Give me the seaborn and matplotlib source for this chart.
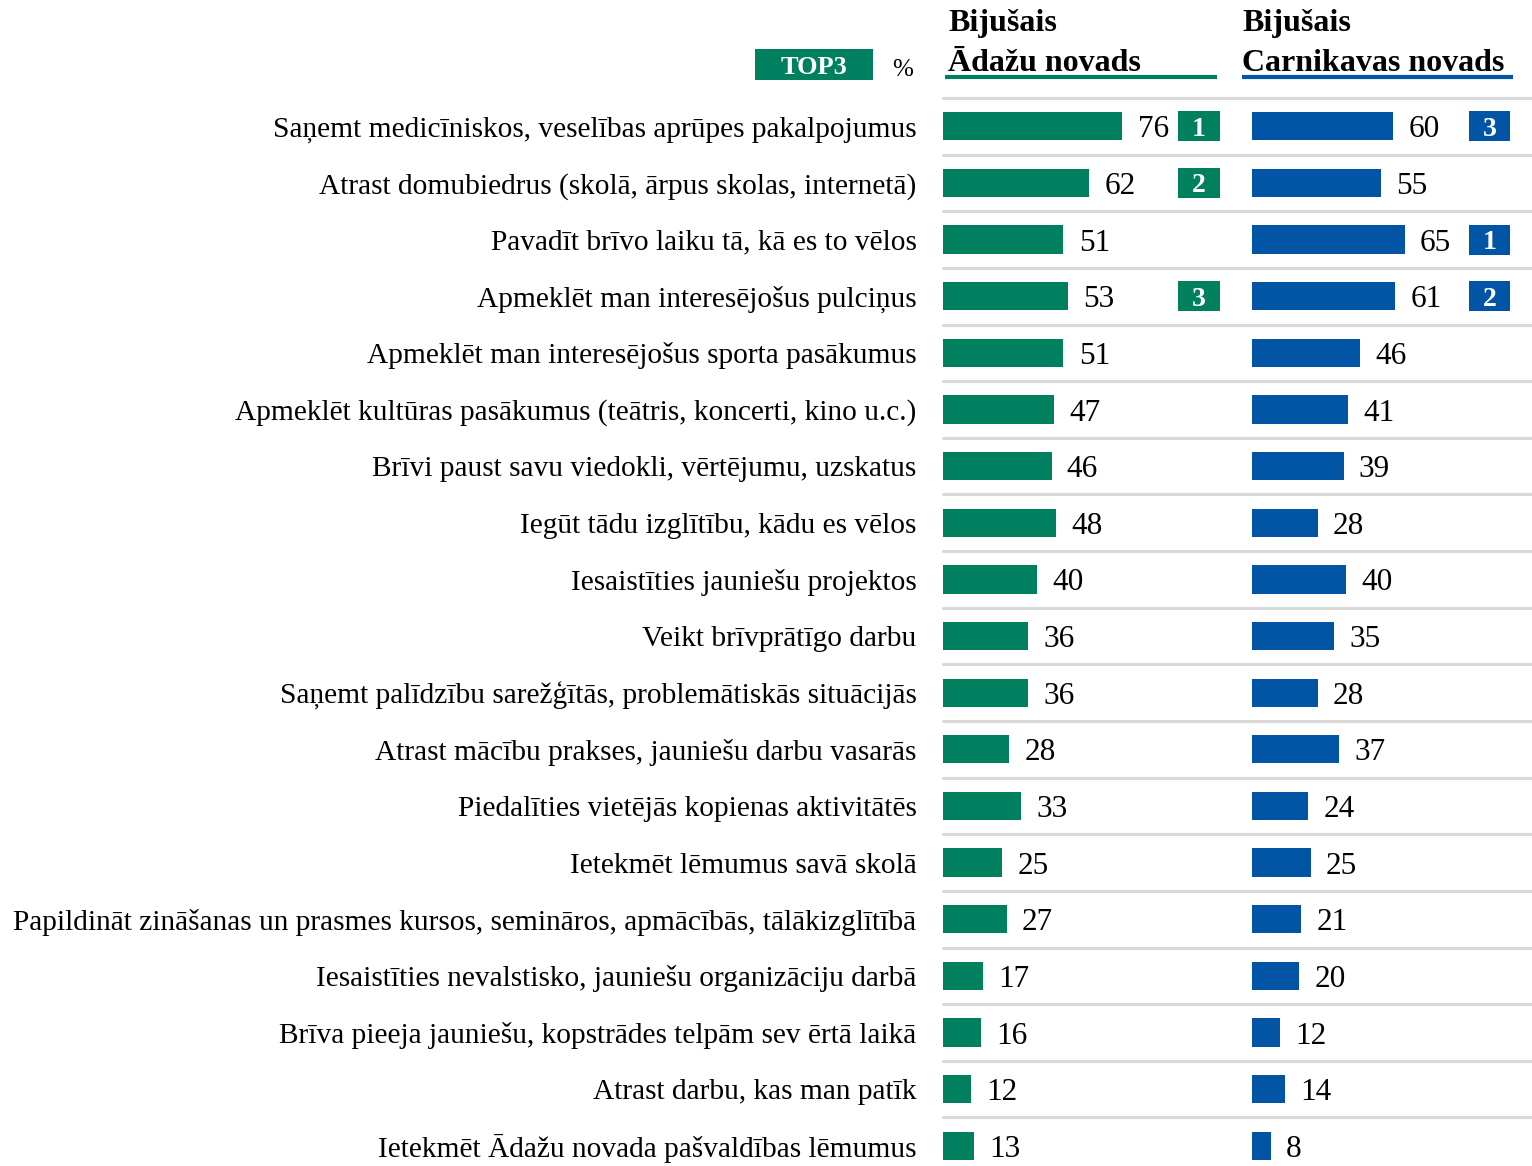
import pandas as pd
import matplotlib.pyplot as plt
import matplotlib.transforms as mtransforms
from matplotlib.patches import Rectangle
from matplotlib.lines import Line2D
import seaborn as sns

sns.set_style('white')
plt.rcParams['font.family'] = ['Liberation Serif', 'DejaVu Serif']
plt.rcParams['text.color'] = 'black'
plt.rcParams['ytick.color'] = 'black'

# dati
labels = [
    'Saņemt medicīniskos, veselības aprūpes pakalpojumus',
    'Atrast domubiedrus (skolā, ārpus skolas, internetā)',
    'Pavadīt brīvo laiku tā, kā es to vēlos',
    'Apmeklēt man interesējošus pulciņus',
    'Apmeklēt man interesējošus sporta pasākumus',
    'Apmeklēt kultūras pasākumus (teātris, koncerti, kino u.c.)',
    'Brīvi paust savu viedokli, vērtējumu, uzskatus',
    'Iegūt tādu izglītību, kādu es vēlos',
    'Iesaistīties jauniešu projektos',
    'Veikt brīvprātīgo darbu',
    'Saņemt palīdzību sarežģītās, problemātiskās situācijās',
    'Atrast mācību prakses, jauniešu darbu vasarās',
    'Piedalīties vietējās kopienas aktivitātēs',
    'Ietekmēt lēmumus savā skolā',
    'Papildināt zināšanas un prasmes kursos, semināros, apmācībās, tālākizglītībā',
    'Iesaistīties nevalstisko, jauniešu organizāciju darbā',
    'Brīva pieeja jauniešu, kopstrādes telpām sev ērtā laikā',
    'Atrast darbu, kas man patīk',
    'Ietekmēt Ādažu novada pašvaldības lēmumus',
]
adazi = [76, 62, 51, 53, 51, 47, 46, 48, 40, 36, 36, 28, 33, 25, 27, 17, 16, 12, 13]
carnikava = [60, 55, 65, 61, 46, 41, 39, 28, 40, 35, 28, 37, 24, 25, 21, 20, 12, 14, 8]
adazi_top3 = {0: '1', 1: '2', 3: '3'}
carnikava_top3 = {0: '3', 2: '1', 3: '2'}

green = '#00805E'
blue = '#0254A5'
grid_col = '#D9D9D9'

W, H = 1532, 1166
fig = plt.figure(figsize=(W / 100, H / 100), dpi=100)

def px_box(x0, x1, y0, y1):
    return [x0 / W, 1 - y1 / H, (x1 - x0) / W, (y1 - y0) / H]

ax1 = fig.add_axes(px_box(943, 1240, 98, 1166))
ax2 = fig.add_axes(px_box(1252, 1532, 98, 1166))

df = pd.DataFrame({'label': labels, 'adazi': adazi, 'carnikava': carnikava})

sns.barplot(data=df, x='adazi', y='label', orient='h', color=green, saturation=1,
            width=0.5, linewidth=0, ax=ax1)
sns.barplot(data=df, x='carnikava', y='label', orient='h', color=blue, saturation=1,
            width=0.5, linewidth=0, ax=ax2)

ax1.set_xlim(0, 297 / 2.36)
ax2.set_xlim(0, 280 / 2.35)
n = len(labels)
bottom = (1166 - 127) / 56.6
for ax in (ax1, ax2):
    ax.set_ylim(bottom, -0.5)
    ax.set_xlabel('')
    ax.set_ylabel('')
    ax.set_xticks([])
    ax.patch.set_visible(False)
    for s in ax.spines.values():
        s.set_visible(False)
    for t in ax.bar_label(ax.containers[0], padding=11, fontsize=22.5):
        t.set_va('center_baseline')

ax1.tick_params(axis='y', length=0, pad=19, labelsize=21.2)
ax2.set_yticks([])

# atdalošās līnijas
for i in range(n):
    ax1.axhline(i - 0.5, xmin=0, xmax=(1532 - 943) / 297, color=grid_col, lw=2.2,
                clip_on=False, zorder=0)

# TOP3 zīmes
def badges(ax, ranks, color, x0, w):
    tr = mtransforms.blended_transform_factory(ax.transAxes, ax.transData)
    for row, txt in ranks.items():
        ax.add_patch(Rectangle((x0, row - 0.265), w, 0.53, transform=tr,
                               facecolor=color, edgecolor='none', clip_on=False))
        ax.text(x0 + w / 2, row, txt, transform=tr, ha='center', va='center_baseline',
                color='white', fontsize=20, fontweight='bold')

badges(ax1, adazi_top3, green, (1178 - 943) / 297, 42 / 297)
badges(ax2, carnikava_top3, blue, (1469 - 1252) / 280, 41 / 280)

# virsraksti
def fx(x):
    return x / W

def fy(y):
    return 1 - y / H

for x, name, col, x0, x_end in [(948, 'Ādažu novads', green, 945, 1217),
                                (1242, 'Carnikavas novads', blue, 1242, 1513)]:
    fig.text(fx(x), fy(31), 'Bijušais', fontsize=23, fontweight='bold', va='baseline')
    fig.text(fx(x), fy(71), name, fontsize=23, fontweight='bold', va='baseline')
    fig.add_artist(Line2D([fx(x0), fx(x_end)], [fy(77), fy(77)], color=col, lw=3,
                          solid_capstyle='butt'))

fig.add_artist(Rectangle((fx(755), fy(80)), (873 - 755) / W, 31 / H, transform=fig.transFigure,
                         facecolor=green, edgecolor='none'))
fig.text(fx(814), fy(65), 'TOP3', color='white', fontsize=19, fontweight='bold',
         ha='center', va='center_baseline')
fig.text(fx(903), fy(68), '%', fontsize=18, ha='center', va='center_baseline')

fig.savefig('out.png', dpi=100)
